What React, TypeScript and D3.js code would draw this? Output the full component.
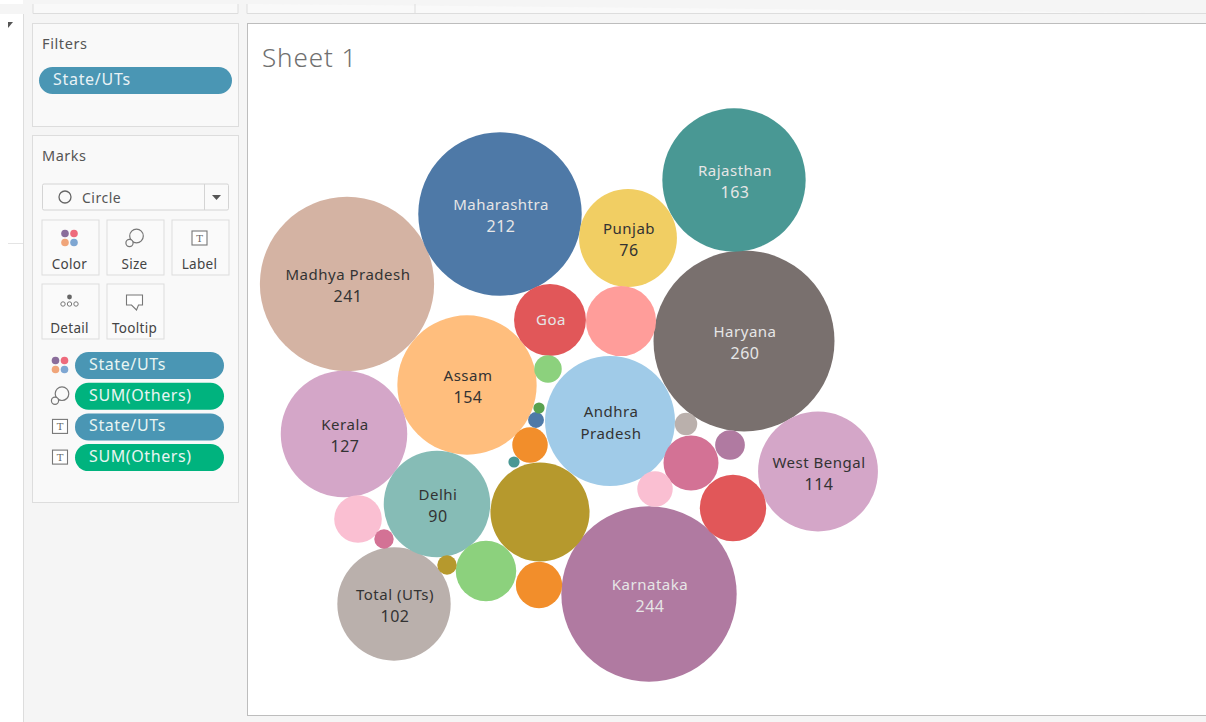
import React from "react";
import * as d3 from "d3";

// Bubble values (unlabelled ones estimated from their area)
const stateNames = ["Haryana","Karnataka","Madhya Pradesh","Maharashtra","Rajasthan","Assam","Andhra Pradesh","Kerala","West Bengal","Total (UTs)","Delhi","Punjab","Unnamed A","Goa","Unnamed B","Unnamed C","Unnamed D","Unnamed E","Unnamed F","Unnamed G","Unnamed H","Unnamed I","Unnamed J","Unnamed K","Unnamed L","Unnamed M","Unnamed N","Unnamed O","Unnamed P","Unnamed Q"];
const othersValues = [260,244,241,212,163,154,134,127,114,102,90,76,78,41,39,35,29,24,18,17,10,10,6,7,4,3,3,2,1,1];
const labelName = [["Haryana"],["Karnataka"],["Madhya Pradesh"],["Maharashtra"],["Rajasthan"],["Assam"],["Andhra","Pradesh"],["Kerala"],["West Bengal"],["Total (UTs)"],["Delhi"],["Punjab"],[],["Goa"],[],[],[],[],[],[],[],[],[],[],[],[],[],[],[],[]];
const showValue = [1,1,1,1,1,1,0,1,1,1,1,1,0,0,0,0,0,0,0,0,0,0,0,0,0,0,0,0,0,0];
// Packed-bubble layout, in units of the view area
const layoutX = [497,402,100,253,487,220,363,97,571,147,190,381,293,303,374,486,239,444,111,292,283,408,301,483,439,137,200,289,292,267];
const layoutY = [318,571,261,191,157,362,398,411,448.5,581,481,215,489,297,298,485,548,440,496,562,422,466,346,422,401,516,542,397,385,439];
const bubbleColors = ["#79706E","#B07AA1","#D4B3A3","#4E79A7","#499894","#FFBE7D","#A0CBE8","#D4A6C8","#D4A6C8","#BAB0AC","#86BCB6","#F1CE63","#B6992D","#E15759","#FF9D9A","#E15759","#8CD17D","#D37295","#FABFD2","#F28E2B","#F28E2B","#FABFD2","#8CD17D","#B07AA1","#BAB0AC","#D37295","#B6992D","#4E79A7","#59A14F","#499894"];
const lightLabel = ["Haryana","Karnataka","Maharashtra","Rajasthan","Goa"];
const shelfPills = ["State/UTs","SUM(Others)","State/UTs","SUM(Others)"];
const shelfColors = ["#4A96B4","#00B37E","#4A96B4","#00B37E"];
const markCards = ["Color","Size","Label","Detail","Tooltip"];

const FONT = "'Noto Sans', sans-serif";
const TXT = "#555";

const x = d3.scaleLinear().domain([0, 959]).range([247, 1206]);
const y = d3.scaleLinear().domain([0, 693]).range([23, 716]);
const r = d3.scaleSqrt().domain([0, 260]).range([0, 90.5]);

const colorDots = (cx: number, cy: number) => (
  <g>
    <circle cx={cx - 4.5} cy={cy - 4.5} r={3.8} fill="#8A6D9B" />
    <circle cx={cx + 4.5} cy={cy - 4.5} r={3.8} fill="#EE6A7C" />
    <circle cx={cx - 4.5} cy={cy + 4.5} r={3.8} fill="#F0A57A" />
    <circle cx={cx + 4.5} cy={cy + 4.5} r={3.8} fill="#7EA6D2" />
  </g>
);
const sizeIcon = (cx: number, cy: number) => (
  <g fill="#fafafa" stroke="#777" strokeWidth={1.2}>
    <circle cx={cx + 2} cy={cy - 2} r={6.8} />
    <circle cx={cx - 5} cy={cy + 5} r={3.6} />
  </g>
);
const labelIcon = (cx: number, cy: number) => (
  <g>
    <rect x={cx - 7.5} y={cy - 7} width={15} height={14} fill="#fff" stroke="#777" strokeWidth={1.1} />
    <text x={cx} y={cy + 3.5} textAnchor="middle" fontSize={10} fontFamily="'DejaVu Serif', serif" fill="#666">T</text>
  </g>
);
const detailIcon = (cx: number, cy: number) => (
  <g>
    <circle cx={cx} cy={cy - 5} r={2.4} fill="#666" />
    {[-6.5, 0, 6.5].map((d) => <circle key={d} cx={cx + d} cy={cy + 2} r={2.2} fill="#fff" stroke="#777" strokeWidth={1} />)}
  </g>
);
const tooltipIcon = (cx: number, cy: number) => (
  <path d={`M${cx - 8} ${cy - 7}H${cx + 8}V${cy + 3}H${cx + 4}L${cx + 2} ${cy + 8}L${cx - 3} ${cy + 3}H${cx - 8}Z`} fill="#fff" stroke="#777" strokeWidth={1.1} />
);
const cardIcons = [colorDots, sizeIcon, labelIcon, detailIcon, tooltipIcon];
const cardX = [42, 107, 172, 42, 107];
const cardY = [220, 220, 220, 284, 284];
const shelfIcons = [colorDots, sizeIcon, labelIcon, labelIcon];

export default function App() {
  return (
    <svg width={1206} height={722} style={{ position: "fixed", left: 0, top: 0, display: "block" }}>
      <rect width={1206} height={722} fill="#f5f5f5" />
      <rect x={0} y={0} width={23} height={722} fill="#fff" />
      <line x1={23.5} x2={23.5} y1={4} y2={722} stroke="#ddd" />
      <line x1={8} x2={23} y1={243.5} y2={243.5} stroke="#e4e4e4" />
      <path d="M8 22H13L8 28Z" fill="#555" />

      {/* top strips */}
      <rect x={-1} y={4} width={1208} height={10} fill="#f5f5f5" />
      <path d="M33 4V13.5H238V4" fill="#f9f9f9" stroke="#ddd" />
      <path d="M247 4V13.5H1207" fill="#f9f9f9" stroke="#ddd" />
      <line x1={415} x2={415} y1={4} y2={13} stroke="#ddd" />

      {/* filters */}
      <rect x={32.5} y={23.5} width={206} height={103} fill="#f9f9f9" stroke="#ddd" />
      <text x={42} y={49} fontFamily={FONT} fontSize={14.5} letterSpacing={0.6} fill={TXT}>Filters</text>
      <rect x={39} y={67} width={193} height={27} rx={13.5} fill="#4A96B4" />
      <text x={53} y={85} fontFamily={FONT} fontSize={16} letterSpacing={0.7} fill="#e8f2f6">State/UTs</text>

      {/* marks */}
      <rect x={32.5} y={135.5} width={206} height={367} fill="#f9f9f9" stroke="#ddd" />
      <text x={42} y={161} fontFamily={FONT} fontSize={14.5} letterSpacing={0.5} fill={TXT}>Marks</text>
      <rect x={42.5} y={184} width={186} height={26} rx={1.5} fill="#fafafa" stroke="#d4d4d4" />
      <line x1={204.5} x2={204.5} y1={184} y2={210} stroke="#d4d4d4" />
      <circle cx={65} cy={197} r={6} fill="none" stroke="#666" strokeWidth={1.3} />
      <text x={82} y={203} fontFamily={FONT} fontSize={14} letterSpacing={0.5} fill={TXT}>Circle</text>
      <path d="M212 195H221L216.5 200Z" fill="#555" />

      {markCards.map((c, i) => (
        <g key={c}>
          <rect x={cardX[i]} y={cardY[i]} width={57} height={55} fill="#fafafa" stroke="#ddd" />
          {cardIcons[i](cardX[i] + 27.5, cardY[i] + 18)}
          <text x={cardX[i] + 27.5} y={cardY[i] + 48.5} textAnchor="middle" fontFamily={FONT} fontSize={13.5} letterSpacing={0.3} fill="#444">{c}</text>
        </g>
      ))}

      {shelfPills.map((p, i) => (
        <g key={i}>
          {shelfIcons[i](60, 365 + i * 30.7)}
          <rect x={75} y={352 + i * 30.7} width={149} height={27} rx={13.5} fill={shelfColors[i]} />
          <text x={89} y={370 + i * 30.7} fontFamily={FONT} fontSize={16} letterSpacing={0.6} fill="#e8f5f2">{p}</text>
        </g>
      ))}

      {/* sheet */}
      <rect x={247.5} y={23.5} width={960} height={692} fill="#fff" stroke="#bdbdbd" />
      <text x={262} y={67} fontFamily={FONT} fontWeight={300} fontSize={26} letterSpacing={0.9} fill="#707070">Sheet 1</text>

      {othersValues.map((v, i) => (
        <circle key={stateNames[i]} cx={x(layoutX[i])} cy={y(layoutY[i])} r={r(v)} fill={bubbleColors[i]} />
      ))}
      {othersValues.map((v, i) => {
        const lines = [...labelName[i], ...(showValue[i] ? [String(v)] : [])];
        if (!lines.length) return null;
        const light = lightLabel.includes(stateNames[i]);
        const start = lines.length === 1 ? 5 : -4;
        const isName = (k: number) => k < labelName[i].length;
        return (
          <text key={stateNames[i]} textAnchor="middle" fontFamily={FONT} letterSpacing={0.5} fill={light ? "#e6e6e6" : "#333"}>
            {lines.map((l, k) => (
              <tspan key={k} x={x(layoutX[i]) + 1} y={y(layoutY[i]) + start + k * 22} fontSize={isName(k) ? 15 : 16}>{l}</tspan>
            ))}
          </text>
        );
      })}
    </svg>
  );
}
